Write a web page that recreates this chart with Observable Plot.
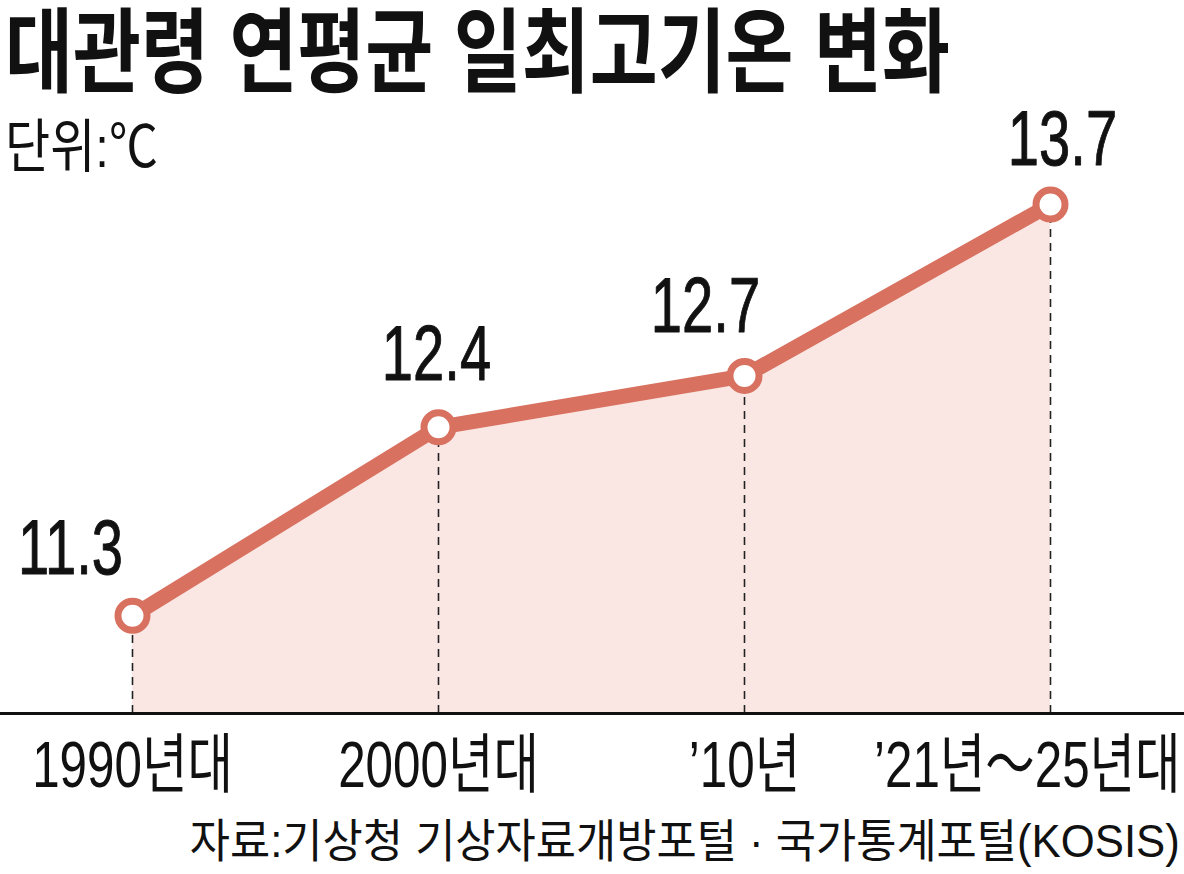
<!DOCTYPE html>
<html><head><meta charset="utf-8">
<script src="https://cdn.jsdelivr.net/npm/d3@7"></script>
<script src="https://cdn.jsdelivr.net/npm/@observablehq/plot@0.6"></script>
<style>
body{margin:0;background:#fff;}
#wrap{position:relative;width:1184px;height:874px;overflow:hidden;background:#fff;font-family:"Liberation Sans","Noto Sans CJK KR",sans-serif;color:#111;}
.t{position:absolute;white-space:nowrap;line-height:1;}
#title{left:5px;top:7px;font-size:92px;font-weight:700;transform-origin:left top;}
#unit{left:5px;top:118px;font-size:58px;transform-origin:left top;}
#source{right:4px;top:818px;font-size:46px;transform-origin:right top;}
#chart{position:absolute;left:0;top:60px;}
</style></head><body>
<div id="wrap">
<div id="chart"></div>
<div id="title" class="t"></div>
<div id="unit" class="t"></div>
<div id="source" class="t"></div>
</div>
<script>
const titleText = "대관령 연평균 일최고기온 변화";
const unitText = "단위:℃";
const sourceText = "자료:기상청 기상자료개방포털 · 국가통계포털(KOSIS)";
const periods = ["1990년대", "2000년대", "’10년", "’21년～25년대"];
const temps = [11.3, 12.4, 12.7, 13.7];
const valueLabels = ["11.3", "12.4", "12.7", "13.7"];

const data = periods.map((p, i) => ({period: p, temp: temps[i], label: valueLabels[i]}));
const yMin = 10.73;
const lineColor = "#d8715f";
const labelDx = [-62, -2, -39, 12];
const labelDy = [-67, -72, -69, -64];

const valueMarks = data.map((d, i) => Plot.text([d], {
  x: "period", y: "temp", text: "label", dx: labelDx[i], dy: labelDy[i],
  fontSize: 78, fill: "#111", stroke: "#111", strokeWidth: 1
}));

const plot = Plot.plot({
  width: 1184, height: 756,
  marginLeft: 0, marginRight: 0, marginTop: 0, marginBottom: 0,
  style: {fontFamily: '"Liberation Sans","Noto Sans CJK KR",sans-serif', background: "transparent"},
  x: {type: "point", domain: periods, range: [132, 1050], padding: 0, axis: null},
  y: {domain: [yMin, d3.max(temps)], range: [653, 144], axis: null},
  marks: [
    Plot.areaY(data, {x: "period", y1: () => yMin, y2: "temp", fill: "#fae7e4"}),
    Plot.ruleX(data, {x: "period", y1: () => yMin, y2: "temp", stroke: "#222", strokeWidth: 1.6, strokeDasharray: "8,6"}),
    Plot.ruleY([yMin], {stroke: "#111", strokeWidth: 3}),
    Plot.line(data, {x: "period", y: "temp", stroke: lineColor, strokeWidth: 15}),
    Plot.dot(data, {x: "period", y: "temp", r: 14.5, fill: "white", stroke: lineColor, strokeWidth: 7}),
    ...valueMarks,
    Plot.text(data.slice(0, 3), {x: "period", y: () => yMin, text: "period", dy: 53, fontSize: 65, fill: "#111"}),
    Plot.text(data.slice(3), {x: "period", y: () => yMin, text: "period", dy: 53, dx: 130, textAnchor: "end", fontSize: 65, fill: "#111"})
  ]
});
document.getElementById("chart").appendChild(plot);

plot.querySelectorAll('g[aria-label="text"]').forEach(g => {
  const s = g.getAttribute("font-size") === "78" ? 0.72 : 0.76;
  g.querySelectorAll("text").forEach(t => {
    const tr = t.getAttribute("transform") || "";
    t.setAttribute("transform", `${tr} scale(${s},1)`);
  });
});

function fit(id, text, w) {
  const el = document.getElementById(id);
  el.textContent = text;
  const nat = el.getBoundingClientRect().width;
  el.style.transform = `scaleX(${w / nat})`;
}
fit("title", titleText, 945);
fit("unit", unitText, 153);
fit("source", sourceText, 990);
</script>
</body></html>
